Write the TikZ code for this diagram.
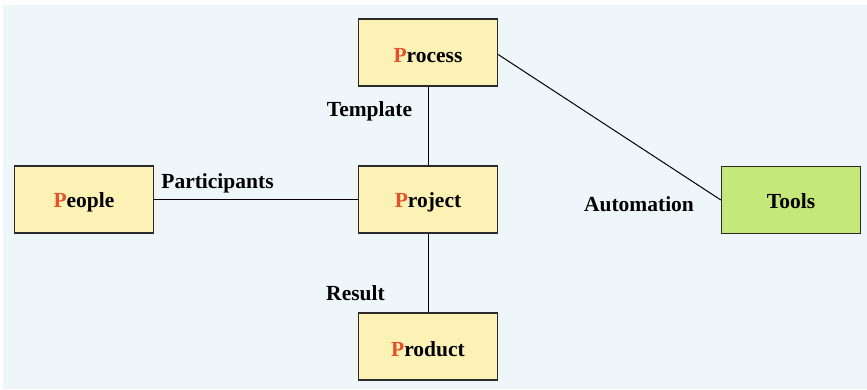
\documentclass[tikz,border=0pt]{standalone}
\usepackage{fontspec}
\setmainfont{Liberation Serif}
\definecolor{bg}{HTML}{EFF6FA}
\definecolor{boxy}{HTML}{FDF2B6}
\definecolor{boxg}{HTML}{C5E87A}
\definecolor{pred}{HTML}{E5512A}
\definecolor{edge}{HTML}{2A2A2A}
\begin{document}
\begin{tikzpicture}[x=1pt,y=-1pt,
  box/.style={draw=edge,line width=1.3pt,fill=boxy,minimum width=139pt,minimum height=67pt,inner sep=0pt},
  lbl/.style={font=\fontsize{21.5}{25}\selectfont\bfseries,inner sep=0pt},
  conn/.style={draw=black,line width=1pt}]
\useasboundingbox (0,0) rectangle (867,389);
\fill[bg] (3,5) rectangle (867,389);
\node[box] (process) at (428,52.5) {};
\node[box] (people) at (84,199.5) {};
\node[box] (project) at (428,199.5) {};
\node[box] (product) at (428,346.5) {};
\node[box,fill=boxg] (tools) at (791,200) {};
\node[lbl] (tprocess) at ([yshift=-3pt]process.center) {\textcolor{pred}{P}rocess};
\node[lbl] (tpeople) at ([yshift=-3pt]people.center) {\textcolor{pred}{P}eople};
\node[lbl] (tproject) at ([yshift=-3pt]project.center) {\textcolor{pred}{P}roject};
\node[lbl] (tproduct) at ([yshift=-3pt]product.center) {\textcolor{pred}{P}roduct};
\node[lbl] (ttools) at ([yshift=-1pt]tools.center) {Tools};
\draw[conn] (process.south) -- (project.north);
\draw[conn] (people.east) -- (project.west);
\draw[conn] (project.south) -- (product.north);
\draw[conn] ([yshift=-2pt]process.east) -- (tools.west);
\node[lbl] (template) at (369.5,111) {Template};
\node[lbl] (participants) at (217.5,183) {Participants};
\node[lbl] (automation) at (639,204) {Automation};
\node[lbl] (result) at (355.5,293.5) {Result};
\end{tikzpicture}
\end{document}
